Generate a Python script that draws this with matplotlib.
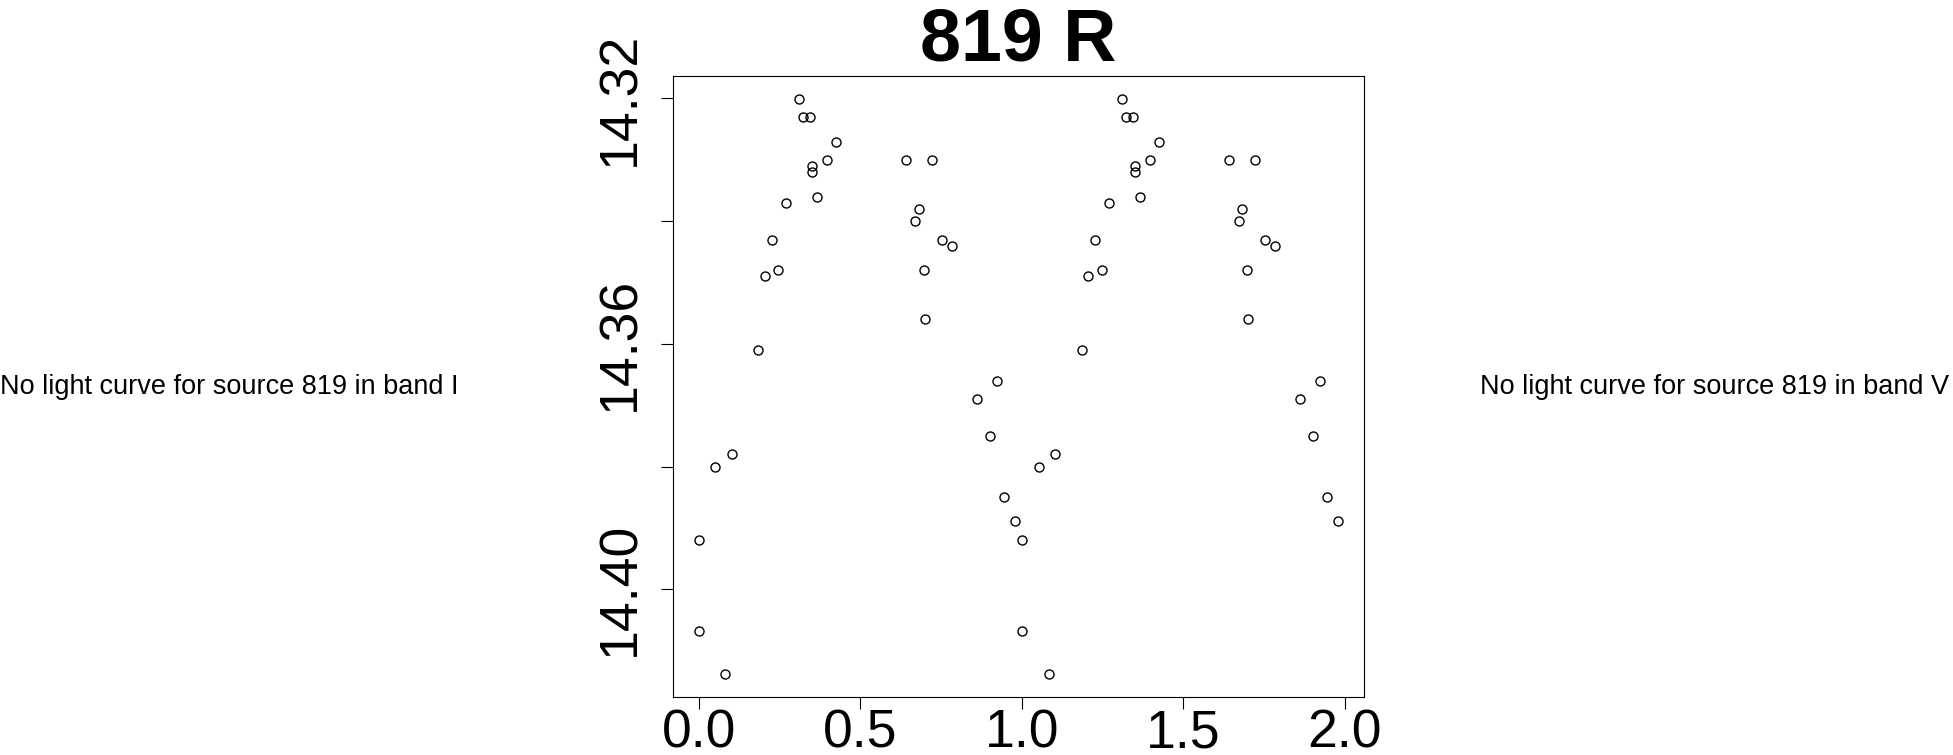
import numpy as np
import matplotlib
matplotlib.use("Agg")
import matplotlib.pyplot as plt

plt.rcParams["font.family"] = ["Liberation Sans", "DejaVu Sans"]

## Phase-folded light curve of source 819, band R (one cycle, plotted twice)
phase = [0.000, 0.000, 0.083, 0.052, 0.104, 0.185, 0.205, 0.227, 0.247, 0.269,
         0.310, 0.324, 0.344, 0.350, 0.350, 0.367, 0.396, 0.425, 0.641, 0.671,
         0.681, 0.697, 0.701, 0.721, 0.754, 0.785, 0.861, 0.902, 0.924, 0.944,
         0.980]
mag = [14.3919, 14.4068, 14.4138, 14.3800, 14.3779, 14.3610, 14.3490, 14.3431,
       14.3480, 14.3370, 14.3201, 14.3231, 14.3231, 14.3310, 14.3320, 14.3360,
       14.3300, 14.3271, 14.3300, 14.3400, 14.3380, 14.3480, 14.3560, 14.3300,
       14.3431, 14.3440, 14.3690, 14.3750, 14.3660, 14.3849, 14.3889]

xticks = [0.0, 0.5, 1.0, 1.5, 2.0]
xticklabels = ["0.0", "0.5", "1.0", "1.5", "2.0"]
yticks = [14.32, 14.34, 14.36, 14.38, 14.40]
yticklabels = ["14.32", "", "14.36", "", "14.40"]

title = "819 R"
msg_left = "No light curve for source 819 in band I"
msg_right = "No light curve for source 819 in band V"

W, H = 1953, 755
fig = plt.figure(figsize=(W / 100, H / 100), dpi=100)

# main panel, placed in pixels like the R device
l, r, t, b = 673, 1364, 76, 697
ax = fig.add_axes([l / W, 1 - b / H, (r - l) / W, (b - t) / H])

x = np.concatenate([np.array(phase), np.array(phase) + 1.0])
y = np.concatenate([np.array(mag), np.array(mag)])
ax.plot(x, y, "o", ls="none", mfc="none", mec="black", ms=6.5, mew=1.0)

# R-style 4% range extension, magnitudes inverted
xpad = 0.04 * (x.max() - x.min())
ypad = 0.04 * (y.max() - y.min())
ax.set_xlim(x.min() - xpad, x.max() + xpad)
ax.set_ylim(y.max() + ypad, y.min() - ypad)

ax.set_xticks(xticks)
ax.set_xticklabels(xticklabels)
ax.set_yticks(yticks)
ax.set_yticklabels(yticklabels)
ax.tick_params(axis="both", direction="out", length=8.6, width=0.8,
               labelsize=38.5)
ax.tick_params(axis="x", pad=0)
ax.tick_params(axis="y", pad=11.5)
for lab in ax.get_yticklabels():
    lab.set_rotation(90)
    lab.set_va("center")
for s in ax.spines.values():
    s.set_linewidth(0.8)

ax.set_title(title, fontsize=53, fontweight="bold", pad=11.5)

## empty panels
fig.text(229 / W, 1 - 387 / H, msg_left, fontsize=19.5, ha="center", va="center")
fig.text(1715 / W, 1 - 387 / H, msg_right, fontsize=19.5, ha="center", va="center")

fig.savefig("out.png", dpi=100)
